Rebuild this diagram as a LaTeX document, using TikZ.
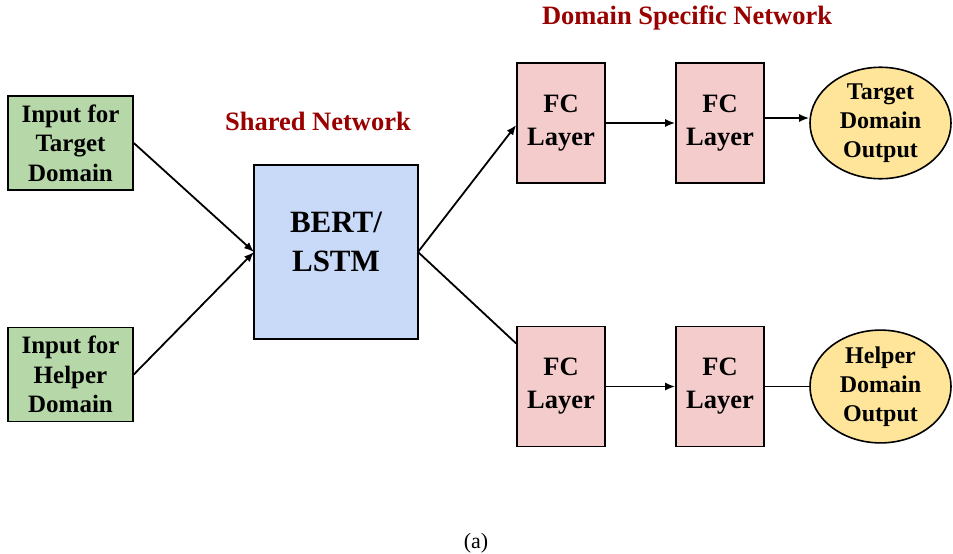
\documentclass[tikz,border=0pt]{standalone}
\usepackage{fontspec}
\setmainfont{Liberation Serif}
\usetikzlibrary{arrows.meta,shapes.geometric}
\definecolor{ingreen}{HTML}{B6D7A8}
\definecolor{bertblue}{HTML}{C9DAF8}
\definecolor{fcpink}{HTML}{F4CCCC}
\definecolor{outyellow}{HTML}{FFE599}
\definecolor{titlered}{HTML}{990000}
\tikzset{
  box/.style={draw=black, line width=1.6pt, inner sep=0pt, align=center},
  inbox/.style={box, fill=ingreen, minimum width=125pt, minimum height=94pt, font=\fontsize{25}{29.5}\selectfont\bfseries},
  fcbox/.style={box, fill=fcpink, minimum width=88pt, minimum height=120pt, font=\fontsize{26.5}{33}\selectfont\bfseries},
  outell/.style={box, ellipse, fill=outyellow, minimum width=141pt, minimum height=110pt, font=\fontsize{24}{29}\selectfont\bfseries},
  title/.style={text=titlered, font=\fontsize{26.5}{30}\selectfont\bfseries},
  conn/.style={line width=1.8pt, draw=black},
  arr/.style={conn, -{Latex[length=10pt,width=8pt]}}
}
\begin{document}
\begin{tikzpicture}[x=1pt,y=-1pt]
\useasboundingbox (0,0) rectangle (953,554);
\node[inbox] (it) at (70.5,143) {Input for\\Target\\Domain};
\node[inbox] (ih) at (70.5,374.5) {Input for\\Helper\\Domain};
\node[box, fill=bertblue, minimum width=164pt, minimum height=174pt] (bert) at (336,252) {};
\node[align=center, inner sep=0pt, font=\fontsize{31}{39}\selectfont\bfseries] (bertlbl) at (336,242) {BERT/\\LSTM};
\node[fcbox] (f1) at (561,123) {FC\\Layer};
\node[fcbox] (f2) at (720,123) {FC\\Layer};
\node[fcbox] (f3) at (561,386.5) {FC\\Layer};
\node[fcbox] (f4) at (720,386.5) {FC\\Layer};
\node[outell] (ot) at (880.5,123) {Target\\Domain\\Output};
\node[outell] (oh) at (880.5,386.5) {Helper\\Domain\\Output};
\node[title] (tsh) at (318,121) {Shared Network};
\node[title] (tds) at (687,18) {Domain Specific Network};
\node[font=\fontsize{22}{24}\selectfont] (cap) at (476,543) {(a)};
\coordinate (bin) at (254,252);
\coordinate (bout) at (418,252);
\draw[arr] (it.east) -- (bin);
\draw[arr] (ih.east) -- (bin);
\draw[arr] (bout) -- ([yshift=-2pt]f1.west);
\draw[conn] (bout) -- ([yshift=43pt]f3.west);
\draw[arr] (f1.east) -- (f2.west);
\draw[arr] ([yshift=5pt]f2.east) -- ([yshift=5pt]ot.west);
\draw[arr] (f3.east) -- (f4.west);
\draw[conn] (f4.east) -- (oh.west);
\end{tikzpicture}
\end{document}
